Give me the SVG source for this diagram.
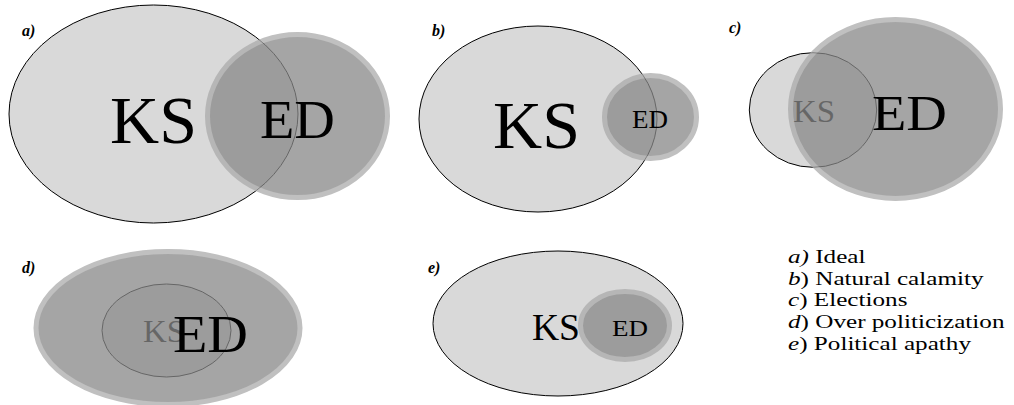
<svg xmlns="http://www.w3.org/2000/svg" width="1014" height="405" viewBox="0 0 1014 405" font-family="Liberation Serif, serif">
  <style>
    .ks { fill: #d9d9d9; stroke: #000; stroke-width: 1; }
    .ed { fill: #888888; stroke: #ababab; stroke-width: 5; opacity: 0.75; }
    .tag { font-weight: bold; font-style: italic; font-size: 16px; }
    .legend text { font-size: 19.5px; }
    .it { font-style: italic; }
  </style>

  <rect width="1014" height="405" fill="#ffffff"/>

  <!-- a) Ideal -->
  <g id="panel-a">
    <ellipse class="ks" cx="153.5" cy="114" rx="144.5" ry="109"/>
    <text x="110" y="143" font-size="68.5" textLength="87" lengthAdjust="spacingAndGlyphs">KS</text>
    <ellipse class="ed" cx="297.5" cy="116" rx="90" ry="81.5"/>
    <text x="260" y="138" font-size="55" textLength="75" lengthAdjust="spacingAndGlyphs">ED</text>
    <text class="tag" x="22" y="36">a)</text>
  </g>

  <!-- b) Natural calamity -->
  <g id="panel-b">
    <ellipse class="ks" cx="538" cy="119" rx="119" ry="93"/>
    <text x="493" y="148" font-size="68.5" textLength="87" lengthAdjust="spacingAndGlyphs">KS</text>
    <ellipse class="ed" cx="650.5" cy="117" rx="46" ry="41.5"/>
    <text x="632" y="128" font-size="25" textLength="36" lengthAdjust="spacingAndGlyphs">ED</text>
    <text class="tag" x="432" y="36">b)</text>
  </g>

  <!-- c) Elections -->
  <g id="panel-c">
    <ellipse class="ks" cx="813" cy="110" rx="63.7" ry="57.3"/>
    <text x="793" y="122" font-size="30.5" textLength="42" lengthAdjust="spacingAndGlyphs">KS</text>
    <ellipse class="ed" cx="895.5" cy="109" rx="105" ry="89.5"/>
    <text x="872" y="130" font-size="51.5" textLength="75" lengthAdjust="spacingAndGlyphs">ED</text>
    <text class="tag" x="729" y="33">c)</text>
  </g>

  <!-- d) Over politicization -->
  <g id="panel-d">
    <ellipse class="ks" cx="166.5" cy="330.5" rx="64.5" ry="46.5"/>
    <text x="143" y="342" font-size="31.5" textLength="42" lengthAdjust="spacingAndGlyphs">KS</text>
    <ellipse class="ed" cx="168" cy="328" rx="132" ry="76.5"/>
    <text x="173" y="352" font-size="53.5" textLength="75" lengthAdjust="spacingAndGlyphs">ED</text>
    <text class="tag" x="22" y="273">d)</text>
  </g>

  <!-- e) Political apathy -->
  <g id="panel-e">
    <ellipse class="ks" cx="558" cy="323.5" rx="125" ry="72.5"/>
    <text x="532" y="340" font-size="38.5" textLength="48" lengthAdjust="spacingAndGlyphs">KS</text>
    <ellipse class="ed" cx="625" cy="325.5" rx="44.5" ry="34"/>
    <text x="612" y="336" font-size="22.5" textLength="36" lengthAdjust="spacingAndGlyphs">ED</text>
    <text class="tag" x="428" y="273">e)</text>
  </g>

  <!-- key -->
  <g id="legend" class="legend" transform="translate(788 0) scale(1.29 1)">
    <text x="0" y="263"><tspan class="it">a)</tspan> Ideal</text>
    <text x="0" y="284.7"><tspan class="it">b</tspan>) Natural calamity</text>
    <text x="0" y="306.4"><tspan class="it">c</tspan>) Elections</text>
    <text x="0" y="328.1"><tspan class="it">d</tspan>) Over politicization</text>
    <text x="0" y="349.8"><tspan class="it">e</tspan>) Political apathy</text>
  </g>
</svg>
